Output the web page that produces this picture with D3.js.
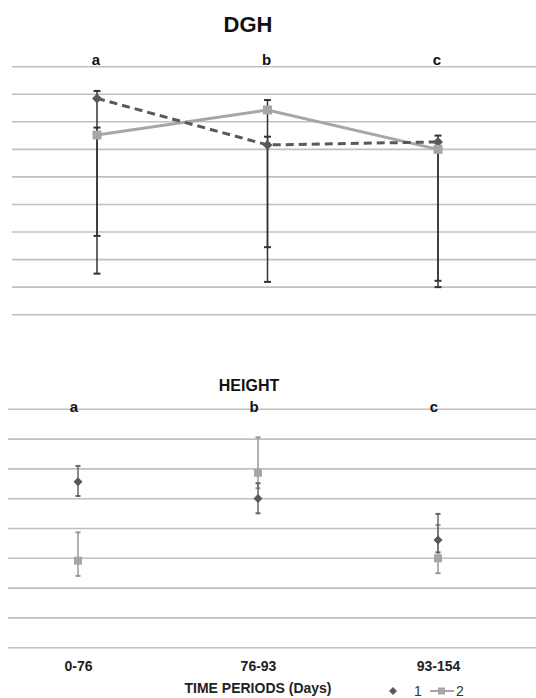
<!DOCTYPE html>
<html>
<head>
<meta charset="utf-8">
<script src="https://cdn.jsdelivr.net/npm/d3@7"></script>
<style>
  body { margin: 0; background: #fff; }
  text { font-family: "Liberation Sans", Arial, sans-serif; }
</style>
</head>
<body>
<svg width="536" height="698"></svg>
<script>
var periods = ["0-76", "76-93", "93-154"];
var letters = ["a", "b", "c"];

// DGH (top panel)
var dgh1 = [7.85, 6.16, 6.27];
var dgh1Up = [8.12, 6.46, 6.5];
var dgh1Low = [2.86, 1.19, 1.23];
var dgh2 = [6.52, 7.43, 6.0];
var dgh2Up = [6.79, 7.79, 6.28];
var dgh2Low = [1.49, 2.45, 1.0];

// HEIGHT (bottom panel)
var ht1 = [5.57, 5.01, 3.61];
var ht1Up = [6.1, 5.52, 4.49];
var ht1Low = [5.09, 4.51, 3.2];
var ht2 = [2.92, 5.87, 3.0];
var ht2Up = [3.87, 7.06, 4.12];
var ht2Low = [2.41, 5.35, 2.5];

var dark = "#595959";
var light = "#a6a6a6";
var grid = "#c0c0c0";

var svg = d3.select("svg");

function rows(vals, up, low) {
  return periods.map((p, i) => ({ p: p, v: vals[i], up: up[i], low: low[i] }));
}

function gridlines(g, y, x0, x1, n) {
  g.selectAll(".grid")
    .data(d3.range(0, n + 1))
    .enter()
    .append("line")
    .attr("x1", x0)
    .attr("x2", x1)
    .attr("y1", (d) => y(d))
    .attr("y2", (d) => y(d))
    .attr("stroke", grid)
    .attr("stroke-width", 1.6);
}

function errorBars(g, data, x, y, color, cap) {
  var eb = g.selectAll(null).data(data).enter().append("g");
  eb.append("line")
    .attr("x1", (d) => x(d.p)).attr("x2", (d) => x(d.p))
    .attr("y1", (d) => y(d.up)).attr("y2", (d) => y(d.low))
    .attr("stroke", color).attr("stroke-width", 1.5);
  ["up", "low"].forEach((k) => {
    eb.append("line")
      .attr("x1", (d) => x(d.p) - cap).attr("x2", (d) => x(d.p) + cap)
      .attr("y1", (d) => y(d[k])).attr("y2", (d) => y(d[k]))
      .attr("stroke", color).attr("stroke-width", 2);
  });
}

function diamonds(g, data, x, y, s) {
  g.selectAll(null).data(data).enter()
    .append("path")
    .attr("d", `M0,${-s}L${s},0L0,${s}L${-s},0Z`)
    .attr("transform", (d) => `translate(${x(d.p)},${y(d.v)})`)
    .attr("fill", dark);
}

function squares(g, data, x, y, s) {
  g.selectAll(null).data(data).enter()
    .append("rect")
    .attr("x", (d) => x(d.p) - s).attr("y", (d) => y(d.v) - s)
    .attr("width", s * 2).attr("height", s * 2)
    .attr("fill", light);
}

// ---------- top panel: DGH ----------
var xTop = d3.scalePoint().domain(periods).range([97, 438]);
var yTop = d3.scaleLinear().domain([0, 9]).range([314.7, 66.7]);
var topG = svg.append("g");

gridlines(topG, yTop, 12, 536, 9);

svg.append("text").attr("x", 248).attr("y", 32)
  .attr("text-anchor", "middle").attr("font-size", 22).attr("font-weight", "bold")
  .attr("fill", "#111").text("DGH");

topG.selectAll(".lt").data(letters).enter().append("text")
  .attr("x", (d, i) => xTop(periods[i]) - 1)
  .attr("y", 65)
  .attr("text-anchor", "middle").attr("font-size", 15).attr("font-weight", "bold")
  .attr("fill", "#111").text((d) => d);

var d1 = rows(dgh1, dgh1Up, dgh1Low);
var d2 = rows(dgh2, dgh2Up, dgh2Low);

errorBars(topG, d1, xTop, yTop, "#333", 3.5);
errorBars(topG, d2, xTop, yTop, "#333", 3.5);

var lineTop = d3.line().x((d) => xTop(d.p)).y((d) => yTop(d.v));
topG.append("path").datum(d2).attr("d", lineTop)
  .attr("fill", "none").attr("stroke", light).attr("stroke-width", 3);
topG.append("path").datum(d1).attr("d", lineTop)
  .attr("fill", "none").attr("stroke", dark).attr("stroke-width", 3)
  .attr("stroke-dasharray", "8,5");

diamonds(topG, d1, xTop, yTop, 5);
squares(topG, d2, xTop, yTop, 4.5);

// ---------- bottom panel: HEIGHT ----------
var xBot = d3.scalePoint().domain(periods).range([78, 438]);
var yBot = d3.scaleLinear().domain([0, 8]).range([647.7, 409.3]);
var botG = svg.append("g");

gridlines(botG, yBot, 8, 536, 8);

svg.append("text").attr("x", 249).attr("y", 391)
  .attr("text-anchor", "middle").attr("font-size", 16).attr("font-weight", "bold")
  .attr("fill", "#111").text("HEIGHT");

botG.selectAll(".lt").data(letters).enter().append("text")
  .attr("x", (d, i) => xBot(periods[i]) - 4)
  .attr("y", 412)
  .attr("text-anchor", "middle").attr("font-size", 15).attr("font-weight", "bold")
  .attr("fill", "#111").text((d) => d);

var h1 = rows(ht1, ht1Up, ht1Low);
var h2 = rows(ht2, ht2Up, ht2Low);

errorBars(botG, h2, xBot, yBot, "#999", 2.5);
errorBars(botG, h1, xBot, yBot, "#666", 2.5);
squares(botG, h2, xBot, yBot, 4);
diamonds(botG, h1, xBot, yBot, 4.5);

// x axis labels
var xAxis = d3.axisBottom(xBot).tickSize(0).tickPadding(0);
botG.append("g").attr("transform", "translate(0,661)").call(xAxis)
  .call((g) => g.select(".domain").remove())
  .selectAll("text")
  .attr("font-size", 14).attr("font-weight", "bold").attr("fill", "#222")
  .attr("font-family", "'Liberation Sans', Arial, sans-serif");

svg.append("text").attr("x", 258).attr("y", 693)
  .attr("text-anchor", "middle").attr("font-size", 14).attr("font-weight", "bold")
  .attr("fill", "#222").text("TIME PERIODS (Days)");

// legend
var leg = svg.append("g").attr("transform", "translate(393,691)");
leg.append("path").attr("d", "M0,-4L4,0L0,4L-4,0Z").attr("fill", dark);
leg.append("text").attr("x", 25).attr("y", 5).attr("text-anchor", "middle")
  .attr("font-size", 14).attr("fill", "#333").text("1");
leg.append("line").attr("x1", 37).attr("x2", 61).attr("y1", 0).attr("y2", 0)
  .attr("stroke", light).attr("stroke-width", 2);
leg.append("rect").attr("x", 45).attr("y", -3.5).attr("width", 7).attr("height", 7).attr("fill", light);
leg.append("text").attr("x", 67).attr("y", 5).attr("text-anchor", "middle")
  .attr("font-size", 14).attr("fill", "#333").text("2");
</script>
</body>
</html>
